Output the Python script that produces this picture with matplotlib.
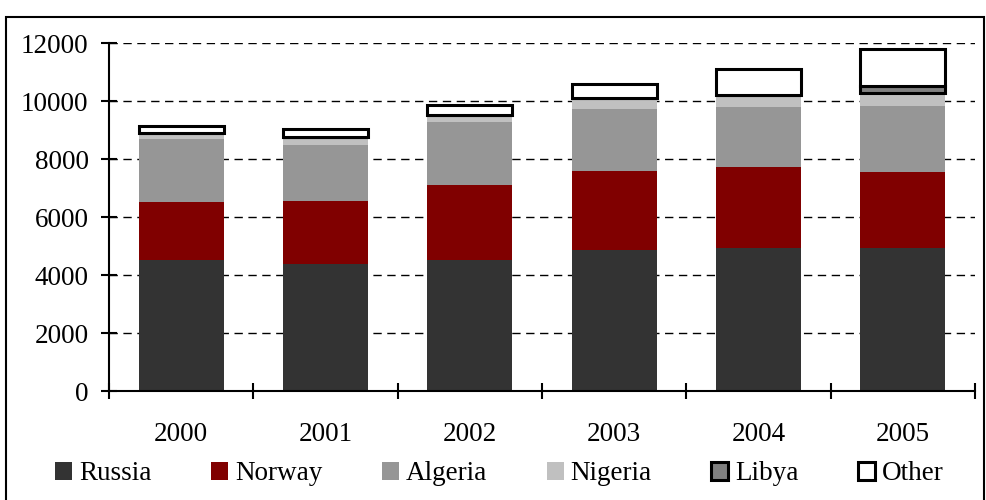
import numpy as np
import matplotlib
matplotlib.use("Agg")
import matplotlib.pyplot as plt
from matplotlib.patches import Rectangle

plt.rcParams['font.family'] = ['Liberation Serif', 'DejaVu Serif']
plt.rcParams['font.size'] = 19.5

# Data
years = ["2000", "2001", "2002", "2003", "2004", "2005"]
russia = [4530, 4390, 4530, 4870, 4940, 4940]
norway = [2000, 2180, 2590, 2740, 2790, 2620]
algeria = [2160, 1930, 2170, 2130, 2070, 2280]
nigeria = [230, 270, 250, 380, 430, 460]
libya = [0, 0, 0, 0, 0, 230]
other = [220, 280, 330, 470, 870, 1270]

series = [
    ("Russia", russia, "#333333", "none"),
    ("Norway", norway, "#800000", "none"),
    ("Algeria", algeria, "#969696", "none"),
    ("Nigeria", nigeria, "#c0c0c0", "none"),
    ("Libya", libya, "#808080", "black"),
    ("Other", other, "white", "black"),
]

fig = plt.figure(figsize=(9.87, 5.0), dpi=100)
ax = fig.add_axes([109 / 987, 1 - 391.3 / 500, 866 / 987, 348 / 500])

x = np.arange(len(years))
bottom = np.zeros(len(years))
handles = []
for name, vals, color, edge in series:
    vals = np.array(vals, dtype=float)
    if edge == "none":
        b = ax.bar(x, vals, width=0.59, bottom=bottom, color=color,
                   edgecolor="none", zorder=3, label=name)
    else:
        b = ax.bar(x, vals, width=0.59, bottom=bottom, color=color,
                   edgecolor=edge, linewidth=2.2, zorder=4, label=name)
    bottom += vals
    handles.append(b)

ax.set_xlim(-0.5, len(years) - 0.5)
ax.set_ylim(0, 12000)
ax.set_yticks(np.arange(0, 12001, 2000))

# category labels at centres, tick marks on the boundaries
ax.set_xticks(x)
ax.set_xticklabels(years)
ax.set_xticks(np.arange(-0.5, len(years)), minor=True)
ax.tick_params(axis="x", which="major", length=0, pad=22)
ax.tick_params(axis="x", which="minor", direction="inout", length=11.5, width=1.5)
ax.tick_params(axis="y", direction="inout", length=11.5, width=1.5, pad=9)

for v in range(2000, 12001, 2000):
    ax.axhline(v, color="black", linewidth=1.0, dashes=(6, 4), zorder=1)

for side in ["top", "right"]:
    ax.spines[side].set_visible(False)
for side in ["left", "bottom"]:
    ax.spines[side].set_linewidth(1.5)
    ax.spines[side].set_zorder(5)

fig.legend(handles=handles, labels=[s[0] for s in series], loc="center",
           bbox_to_anchor=(0.5 + 6 / 987, 1 - 474 / 500), ncol=6, frameon=False,
           handlelength=0.63, handleheight=0.63, handletextpad=0.25,
           columnspacing=2.2, borderaxespad=0)

# outer frame around the chart
fig.patches.append(Rectangle((6 / 987, -0.02), 978 / 987, 1 - 17 / 500 + 0.02,
                             transform=fig.transFigure, fill=False,
                             edgecolor="black", linewidth=1.5, clip_on=False))

fig.savefig("out.png", dpi=100)
